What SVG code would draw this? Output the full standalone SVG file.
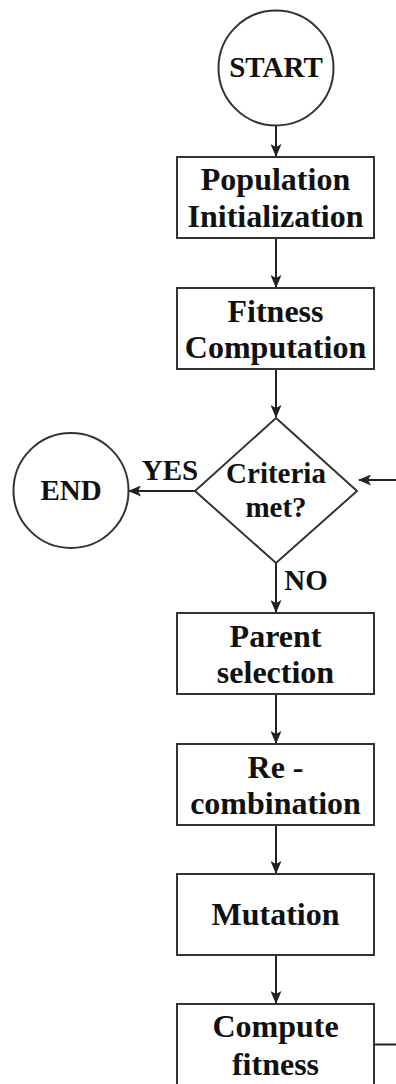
<svg xmlns="http://www.w3.org/2000/svg" width="396" height="1084" viewBox="0 0 396 1084">
<defs>
<style>
.shape{fill:#ffffff;stroke:#333333;stroke-width:2}
.t{font-family:"Liberation Serif","Times New Roman",serif;font-weight:bold;fill:#111111;text-anchor:middle}
.big{font-size:32px}
.sm{font-size:29px}
.edge{fill:none;stroke:#222222;stroke-width:2}
</style>
<marker id="arr" markerUnits="userSpaceOnUse" markerWidth="13" markerHeight="11" refX="12" refY="5.5" orient="auto">
<path d="M0,0 L13,5.5 L0,11 L3,5.5 z" fill="#222222"/>
</marker>
</defs>
<rect width="396" height="1084" fill="#ffffff"/>
<g id="connectors">
<line class="edge" x1="276" y1="126" x2="276" y2="156" marker-end="url(#arr)"/>
<line class="edge" x1="276" y1="238" x2="276" y2="287" marker-end="url(#arr)"/>
<line class="edge" x1="276" y1="369" x2="276" y2="417" marker-end="url(#arr)"/>
<line class="edge" x1="276" y1="563" x2="276" y2="612" marker-end="url(#arr)"/>
<line class="edge" x1="276" y1="694" x2="276" y2="743" marker-end="url(#arr)"/>
<line class="edge" x1="276" y1="825" x2="276" y2="873" marker-end="url(#arr)"/>
<line class="edge" x1="276" y1="955" x2="276" y2="1003" marker-end="url(#arr)"/>
<line class="edge" x1="195" y1="491" x2="129" y2="491" marker-end="url(#arr)"/>
<line class="edge" x1="397" y1="480" x2="359" y2="480" marker-end="url(#arr)"/>
<line class="edge" x1="374" y1="1044.5" x2="397" y2="1044.5"/>
<text class="t sm" x="170" y="480">YES</text>
<text class="t sm" x="306" y="590">NO</text>
</g>
<g id="start">
<circle class="shape" cx="276" cy="68" r="57.5"/>
<text class="t sm" x="276" y="77">START</text>
</g>
<g id="pop-init">
<rect class="shape" x="177" y="157" width="197" height="81"/>
<text class="t big" x="275.5" y="190">Population</text>
<text class="t big" x="275.5" y="227">Initialization</text>
</g>
<g id="fitness">
<rect class="shape" x="177" y="288" width="197" height="81"/>
<text class="t big" x="275.5" y="321.5">Fitness</text>
<text class="t big" x="275.5" y="358">Computation</text>
</g>
<g id="criteria">
<path class="shape" d="M276,418 L357,491 L276,563 L195,491 Z"/>
<text class="t sm" x="276" y="483">Criteria</text>
<text class="t sm" x="276" y="517">met?</text>
</g>
<g id="end">
<circle class="shape" cx="71" cy="490.5" r="57.5"/>
<text class="t sm" x="71" y="500">END</text>
</g>
<g id="parent">
<rect class="shape" x="177" y="613" width="197" height="81"/>
<text class="t big" x="275.5" y="646.5">Parent</text>
<text class="t big" x="275.5" y="683">selection</text>
</g>
<g id="recomb">
<rect class="shape" x="177" y="744" width="197" height="81"/>
<text class="t big" x="275.5" y="777.5">Re -</text>
<text class="t big" x="275.5" y="814">combination</text>
</g>
<g id="mutation">
<rect class="shape" x="177" y="874" width="197" height="81"/>
<text class="t big" x="275.5" y="925">Mutation</text>
</g>
<g id="compute">
<rect class="shape" x="177" y="1004" width="197" height="81"/>
<text class="t big" x="275.5" y="1037">Compute</text>
<text class="t big" x="275.5" y="1075">fitness</text>
</g>
</svg>
